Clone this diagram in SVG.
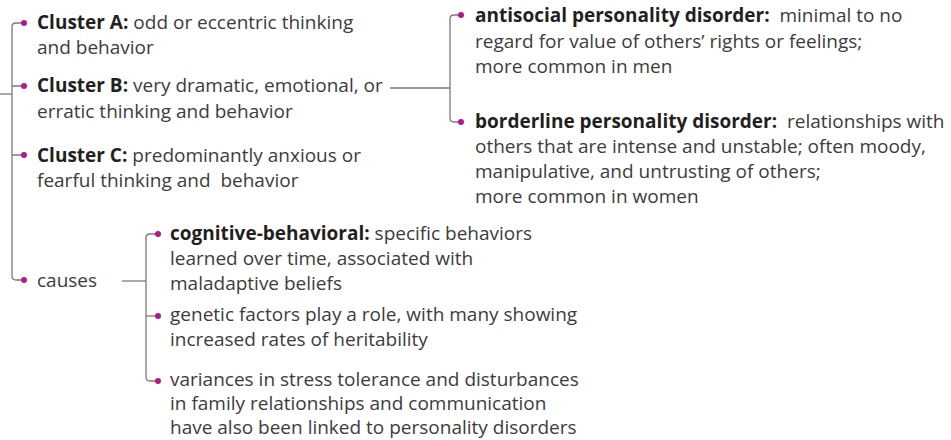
<svg xmlns="http://www.w3.org/2000/svg" width="951" height="440" viewBox="0 0 951 440">
<style>
text{font-family:"Open Sans",Lato,"Liberation Sans",sans-serif;font-size:19px;fill:#3c3c3c}
.b{font-weight:bold;fill:#231f20}
.ln{fill:none;stroke:#7a7a7a;stroke-width:1.3}
.dot{fill:#b5178c}
</style>
<rect width="951" height="440" fill="#fff"/>
<g id="connectors">
<path class="ln" d="M0,94 H12"/>
<path class="ln" d="M24,23 H16 Q12,23 12,27 V276 Q12,280 16,280 H24"/>
<path class="ln" d="M12,86 H24 M12,155 H24"/>
<path class="ln" d="M390,88 H450"/>
<path class="ln" d="M461,15 H454 Q450,15 450,19 V118 Q450,122 454,122 H461"/>
<path class="ln" d="M122,281 H146"/>
<path class="ln" d="M158,234 H150 Q146,234 146,238 V377 Q146,381 150,381 H158"/>
<path class="ln" d="M146,316 H158"/>
</g>
<g id="clusterA"><circle class="dot" cx="24" cy="23" r="3"/>
<text x="37" y="29"><tspan class="b">Cluster A:</tspan> odd or eccentric thinking</text>
<text x="37" y="54">and behavior</text></g>
<g id="clusterB"><circle class="dot" cx="24" cy="86" r="3"/>
<text x="37" y="92"><tspan class="b">Cluster B:</tspan> very dramatic, emotional, or</text>
<text x="37" y="118">erratic thinking and behavior</text></g>
<g id="clusterC"><circle class="dot" cx="24" cy="155" r="3"/>
<text x="37" y="162"><tspan class="b">Cluster C:</tspan> predominantly anxious or</text>
<text x="37" y="187" xml:space="preserve">fearful thinking and  behavior</text></g>
<g id="causes"><circle class="dot" cx="24" cy="280" r="3"/>
<text x="37" y="287">causes</text></g>
<g id="antisocial"><circle class="dot" cx="461" cy="15" r="3"/>
<text x="475" y="22" xml:space="preserve"><tspan class="b">antisocial personality disorder:</tspan>  minimal to no</text>
<text x="475" y="48">regard for value of others’ rights or feelings;</text>
<text x="475" y="73">more common in men</text></g>
<g id="borderline"><circle class="dot" cx="461" cy="122" r="3"/>
<text x="475" y="128" xml:space="preserve"><tspan class="b">borderline personality disorder:</tspan>  relationships with</text>
<text x="475" y="153">others that are intense and unstable; often moody,</text>
<text x="475" y="178">manipulative, and untrusting of others;</text>
<text x="475" y="203">more common in women</text></g>
<g id="cognitive"><circle class="dot" cx="158" cy="234" r="3"/>
<text x="170" y="240"><tspan class="b">cognitive-behavioral:</tspan> specific behaviors</text>
<text x="170" y="265">learned over time, associated with</text>
<text x="170" y="290">maladaptive beliefs</text></g>
<g id="genetic"><circle class="dot" cx="158" cy="316" r="3"/>
<text x="170" y="321">genetic factors play a role, with many showing</text>
<text x="170" y="346">increased rates of heritability</text></g>
<g id="variances"><circle class="dot" cx="158" cy="381" r="3"/>
<text x="170" y="386">variances in stress tolerance and disturbances</text>
<text x="170" y="410">in family relationships and communication</text>
<text x="170" y="434">have also been linked to personality disorders</text></g>
</svg>
